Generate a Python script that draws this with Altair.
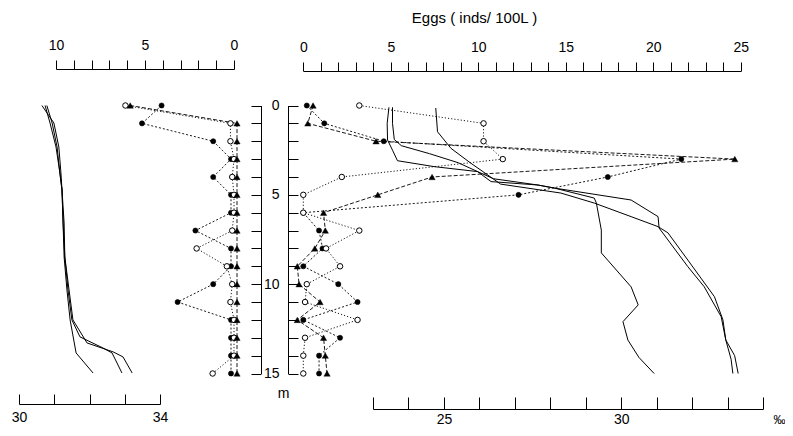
import altair as alt
import pandas as pd

# ---------------- data ----------------
depth_m = list(range(16))

# Left station: eggs (inds/100L), axis runs 10 -> 0
left_eggs_filled = [3.9, 5.0, 1.0, 0.0, 1.0, 0.0, 0.0, 2.0, 0.0, 0.0, 1.0, 3.0, 0.0, 0.0, 0.0, 0.0]
left_eggs_open = [6.1, 0.2, 0.2, 0.0, 0.1, 0.0, 0.0, 0.1, 2.1, 0.4, 0.1, 0.2, 0.0, 0.0, 0.0, 1.2]
left_eggs_tri = [6.0, 0.0, 0.0, 0.0, 0.0, 0.0, 0.0, 0.0, 0.0, 0.0, 0.0, 0.0, 0.0, 0.0, 0.0, 0.0]

# Right station: eggs (inds/100L), axis runs 0 -> 25
right_eggs_filled = [0.2, 1.2, 4.6, 21.6, 17.4, 12.3, 0.0, 0.9, 1.1, 0.0, 2.0, 3.1, 0.0, 2.1, 0.9, 0.9]
right_eggs_open = [3.2, 10.3, 10.3, 11.4, 2.2, 0.0, 0.0, 3.2, 1.3, 2.1, 0.2, 0.1, 3.1, 0.1, 0.0, 0.0]
right_eggs_tri = [0.9, 0.6, 4.5, 25.0, 7.7, 4.6, 1.5, 1.6, 1.0, 0.0, 0.1, 1.3, 0.0, 1.5, 1.6, 1.7]

# Left station salinity profiles (permil)
ls1_depth = [0, 0.98, 2.32, 3.78, 4.73, 6.58, 8.48, 10.32, 12.0, 13.85, 14.97]
ls1_sal = [30.79, 30.94, 31.08, 31.16, 31.22, 31.25, 31.28, 31.36, 31.45, 31.62, 32.10]
ls2_depth = [0, 0.98, 2.32, 3.78, 4.73, 6.58, 8.48, 10.32, 12.0, 12.95, 13.57, 13.85, 14.97]
ls2_sal = [30.74, 30.88, 31.05, 31.16, 31.22, 31.25, 31.30, 31.39, 31.50, 31.73, 32.38, 32.64, 32.92]
ls3_depth = [0, 0.98, 2.32, 3.78, 4.73, 6.58, 8.48, 10.32, 12.0, 13.29, 13.79, 14.07, 14.97]
ls3_sal = [30.65, 30.99, 31.13, 31.19, 31.22, 31.28, 31.30, 31.42, 31.53, 31.93, 32.67, 32.95, 33.21]

# Right station salinity profiles (permil)
rs1_depth = [0.1, 1.0, 1.93, 2.5, 3.09, 3.42, 3.70, 4.26, 4.45, 4.62, 5.18, 5.46, 6.97, 8.25, 10.15, 11.16, 12.1, 13.13, 14.1, 15.0]
rs1_sal = [23.45, 23.40, 23.41, 23.55, 23.69, 24.72, 25.95, 26.33, 27.65, 28.11, 29.24, 29.30, 29.44, 29.44, 30.28, 30.48, 30.05, 30.19, 30.50, 30.93]
rs2_depth = [0.1, 1.0, 1.9, 2.25, 2.7, 3.2, 3.70, 4.1, 4.45, 4.62, 5.29, 6.22, 6.86, 9.02, 10.14, 11.82, 13.12, 14.2, 15.0]
rs2_sal = [23.55, 23.55, 23.60, 23.80, 24.60, 25.40, 25.95, 26.40, 27.65, 28.11, 30.28, 31.04, 31.07, 31.88, 32.34, 32.82, 32.95, 33.10, 33.15]
rs3_depth = [0.14, 1.47, 2.4, 3.23, 3.7, 4.4, 4.9, 5.46, 6.22, 6.78, 7.13, 8.65, 10.7, 12.0, 13.12, 14.0, 15.0]
rs3_sal = [24.77, 24.82, 25.20, 25.76, 26.10, 26.60, 28.30, 29.24, 30.28, 31.04, 31.32, 31.88, 32.63, 32.87, 32.95, 33.20, 33.30]

# tick values / labels
depth_ticks = list(range(0, 16))
left_egg_ticks = list(range(0, 11))
right_egg_ticks = list(range(0, 26))
left_sal_ticks = [30, 31, 32, 33, 34]
right_sal_ticks = list(range(23, 35))

egg_title = "Eggs ( inds/ 100L )"
depth_title = "m"
sal_title = "‰"

# ---------------- styling / layout ----------------
FONT = "Liberation Sans"
W, H = 777, 420
EVERY5 = "datum.value % 5 === 0 ? datum.label : ''"
DASH = {"filled": [2, 2], "open": [1.2, 2], "tri": [4, 2]}


def yscale():
    return alt.Scale(domain=[0, 15], range=[97.5, 365.5], nice=False, zero=False)


def marker(name):
    if name == "filled":
        return dict(shape="circle", filled=True, fill="black", stroke="black", size=26, strokeWidth=0.6)
    if name == "open":
        return dict(shape="circle", filled=True, fill="white", stroke="black", size=30, strokeWidth=1)
    return dict(shape="triangle-up", filled=True, fill="black", stroke="black", size=40, strokeWidth=0.4)


def xs_left_eggs():
    return alt.Scale(domain=[0, 10], range=[226, 48], nice=False, zero=False)


def xs_right_eggs():
    return alt.Scale(domain=[0, 25], range=[295.3, 732.8], nice=False, zero=False)


# axes
ax_top_left = alt.Axis(orient="top", offset=-61, values=left_egg_ticks, labelExpr=EVERY5,
                       tickSize=9, labelPadding=8, title=None)
ax_top_right = alt.Axis(orient="top", offset=-63, values=right_egg_ticks, labelExpr=EVERY5,
                        tickSize=9, labelPadding=8, title=egg_title, titleX=466, titleY=-54,
                        titleAlign="center", titleBaseline="middle", titleFontSize=15, titleAngle=0)
ax_bot_left = alt.Axis(orient="top", offset=-396, values=left_sal_ticks,
                       labelExpr="datum.value === 30 || datum.value === 34 ? datum.label : ''",
                       tickSize=10, labelPadding=-16, labelBaseline="top", title=None)
ax_bot_right = alt.Axis(orient="top", offset=-401, values=right_sal_ticks, labelExpr=EVERY5,
                        tickSize=12, labelPadding=-15, labelBaseline="top", title=sal_title,
                        titleX=771, titleY=10, titleAlign="center", titleBaseline="middle",
                        titleFontSize=12, titleAngle=0)
ax_depth_left = alt.Axis(orient="left", offset=-253, values=depth_ticks, labelExpr=EVERY5,
                         tickSize=10, labelPadding=-28, labelAlign="right", labelBaseline="middle",
                         title=depth_title, titleX=22, titleY=385, titleAngle=0, titleAlign="center",
                         titleBaseline="middle", titleFontSize=14)
ax_depth_right = alt.Axis(orient="right", offset=280 - W, values=depth_ticks, labels=False,
                          tickSize=10, title=None)

layers = []


def sal_layer(profiles, scale, xaxis):
    rows = []
    for i, (ds, ss) in enumerate(profiles):
        for k, (d, s) in enumerate(zip(ds, ss)):
            rows.append({"line": i, "k": k, "depth": d, "sal": s})
    df = pd.DataFrame(rows)
    return (
        alt.Chart(df)
        .mark_line(color="black", strokeWidth=1)
        .encode(
            x=alt.X("sal:Q", scale=scale, axis=xaxis),
            y=alt.Y("depth:Q", scale=yscale(), axis=None),
            detail="line:N",
            order="k:Q",
        )
    )


layers.append(sal_layer([(ls1_depth, ls1_sal), (ls2_depth, ls2_sal), (ls3_depth, ls3_sal)],
                        alt.Scale(domain=[30, 34], range=[11, 152], nice=False, zero=False), ax_bot_left))
layers.append(sal_layer([(rs1_depth, rs1_sal), (rs2_depth, rs2_sal), (rs3_depth, rs3_sal)],
                        alt.Scale(domain=[23, 34], range=[365, 755], nice=False, zero=False), ax_bot_right))


def egg_layers(series, scale_fn, xaxis, yaxis, offsets):
    lines, points = [], []
    for i, (name, vals) in enumerate(series):
        df = pd.DataFrame({"depth": depth_m, "eggs": vals})
        lines.append(
            alt.Chart(df)
            .mark_line(color="black", strokeWidth=0.9, strokeDash=DASH[name], xOffset=offsets[name])
            .encode(
                x=alt.X("eggs:Q", scale=scale_fn(), axis=xaxis if i == 0 else None),
                y=alt.Y("depth:Q", scale=yscale(), axis=yaxis if i == 0 else None),
                order=alt.Order("depth:Q"),
            )
        )
        points.append(
            alt.Chart(df)
            .mark_point(opacity=1, xOffset=offsets[name], **marker(name))
            .encode(
                x=alt.X("eggs:Q", scale=scale_fn(), axis=None),
                y=alt.Y("depth:Q", scale=yscale(), axis=None),
            )
        )
    return lines, points


ll, lp = egg_layers([("filled", left_eggs_filled), ("open", left_eggs_open), ("tri", left_eggs_tri)],
                    xs_left_eggs, ax_top_left, ax_depth_left, {"filled": -3, "open": 0, "tri": 3})
rl, rp = egg_layers([("filled", right_eggs_filled), ("open", right_eggs_open), ("tri", right_eggs_tri)],
                    xs_right_eggs, ax_top_right, ax_depth_right, {"filled": 0, "open": 0, "tri": -6})
layers += ll + rl + lp + rp

chart = (
    alt.layer(*layers)
    .resolve_scale(x="independent", y="independent")
    .resolve_axis(x="independent", y="independent")
    .properties(width=W, height=H, autosize=alt.AutoSizeParams(type="none"), padding=0, background="white")
    .configure_view(stroke=None)
    .configure_axis(
        labelFont=FONT, titleFont=FONT, labelFontSize=14, labelColor="black", titleColor="black",
        titleFontWeight="normal", domainColor="black", tickColor="black", grid=False,
        labelFlush=False, labelOverlap=False, domainWidth=1, tickWidth=1,
    )
)

chart.save("out.html", embed_options={"renderer": "svg", "actions": False})
